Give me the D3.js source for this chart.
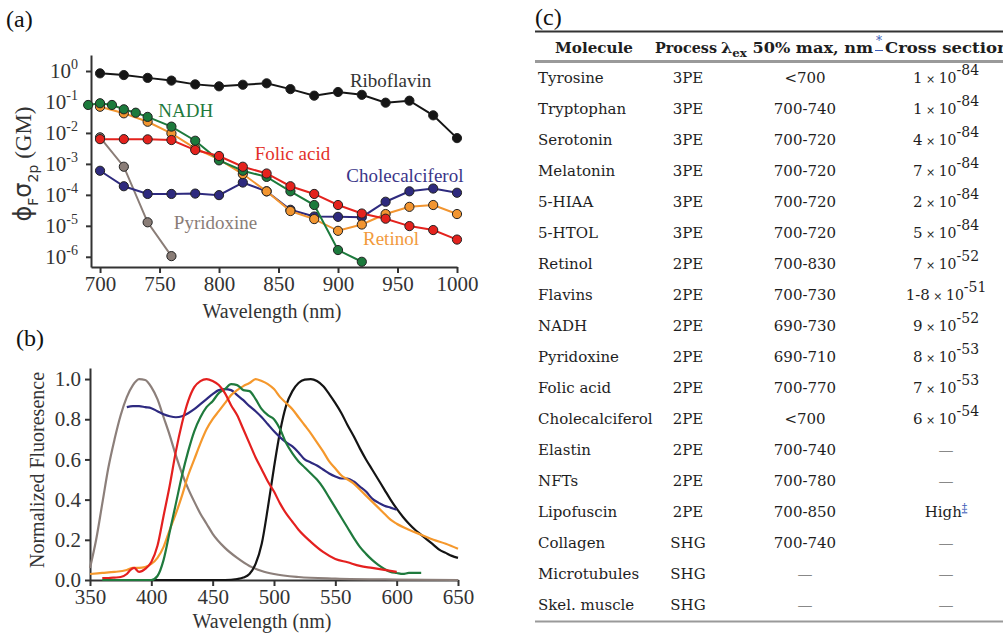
<!DOCTYPE html>
<html>
<head>
<meta charset="utf-8">
<script src="https://cdn.jsdelivr.net/npm/d3@7"></script>
<style>
    body { margin: 0; background: #fff; }
    text { font-family: "Liberation Serif", "Times New Roman", serif; fill: #333; }
    .axis path, .axis line { stroke: #333; stroke-width: 2; }
    .axis text { font-size: 21px; }
    .tbl text { font-family: "DejaVu Serif", serif; fill: #1e1e1e; font-size: 15px; }
    .tbl .hd { font-weight: bold; }
</style>
</head>
<body>
<svg id="fig" width="1003" height="639"></svg>
<script>
// ---------- panel (a): action cross sections ----------
const wlA = [700, 720, 740, 760, 780, 800, 820, 840, 860, 880, 900, 920, 940, 960, 980, 1000];
const riboflavin = [0.84, 0.74, 0.60, 0.49, 0.37, 0.32, 0.36, 0.40, 0.26, 0.16, 0.21, 0.17, 0.095, 0.11, 0.037, 0.0068];
const folicAcid = [0.0063, 0.0063, 0.0062, 0.0059, 0.0028, 0.0018, 8.1e-4, 4.9e-4, 1.9e-4, 1.07e-4, 4.7e-5, 2.5e-5, 1.7e-5, 9.8e-6, 7.3e-6, 3.6e-6];
const retinol = [0.07, 0.043, 0.023, 0.0097, 0.0032, 0.0014, 4.7e-4, 1.3e-4, 3.0e-5, 1.65e-5, 6.9e-6, 1.1e-5, 2.4e-5, 4.1e-5, 4.7e-5, 2.4e-5];
const cholecalciferol = [6e-4, 1.9e-4, 1.07e-4, 1.07e-4, 1.1e-4, 9.8e-5, 2.5e-4, 1.3e-4, 3.3e-5, 2.0e-5, 1.95e-5, 1.9e-5, 6e-5, 1.3e-4, 1.6e-4, 1.17e-4];
const wlNadh = [690, 700, 710, 720, 730, 740, 760, 780, 800, 820, 840, 860, 880, 900, 920];
const nadh = [0.08, 0.091, 0.08, 0.058, 0.045, 0.033, 0.016, 0.0056, 0.0013, 6e-4, 3.8e-4, 1.3e-4, 4.7e-5, 1.65e-6, 6.9e-7];
const wlPyridoxine = [700, 720, 740, 760];
const pyridoxine = [0.0072, 8.1e-4, 1.3e-5, 1.05e-6];
const logTicks = [1, 1e-1, 1e-2, 1e-3, 1e-4, 1e-5, 1e-6];
const logExps = ['0', '-1', '-2', '-3', '-4', '-5', '-6'];
const wlTicksA = [700, 750, 800, 850, 900, 950, 1000];

// ---------- panel (b): emission spectra ----------
const wlPyrEm = [350, 355, 360, 365, 370, 375, 380, 385, 390, 395, 400, 405, 410, 415, 420, 425, 430, 435, 440, 445, 450, 460, 470, 480, 490, 500, 520, 550, 600, 650];
const pyrEm = [0.06, 0.2, 0.38, 0.56, 0.70, 0.82, 0.91, 0.97, 1.0, 0.995, 0.96, 0.90, 0.81, 0.72, 0.62, 0.53, 0.455, 0.39, 0.33, 0.28, 0.23, 0.16, 0.11, 0.07, 0.045, 0.03, 0.015, 0.007, 0.002, 0.0];
const wlFolEm = [360, 365, 370, 375, 380, 383, 386, 390, 395, 400, 405, 410, 415, 420, 425, 430, 435, 440, 445, 450, 455, 460, 465, 470, 475, 480, 485, 490, 495, 500, 505, 510, 515, 520, 530, 540, 550, 560, 570, 580, 590, 600];
const folEm = [0.01, 0.01, 0.012, 0.015, 0.03, 0.05, 0.06, 0.04, 0.055, 0.09, 0.17, 0.32, 0.47, 0.64, 0.78, 0.89, 0.96, 0.99, 1.0, 0.99, 0.97, 0.93, 0.87, 0.82, 0.75, 0.68, 0.61, 0.55, 0.49, 0.44, 0.38, 0.33, 0.29, 0.25, 0.19, 0.14, 0.105, 0.088, 0.07, 0.06, 0.05, 0.04];
const wlNadhEm = [360, 400, 405, 410, 415, 420, 425, 430, 435, 440, 445, 450, 455, 460, 465, 470, 475, 480, 485, 490, 495, 500, 505, 510, 515, 520, 525, 530, 535, 540, 545, 550, 555, 560, 565, 570, 575, 580, 585, 590, 595, 600, 605, 610, 620];
const nadhEm = [0, 0, 0.02, 0.10, 0.24, 0.38, 0.52, 0.64, 0.74, 0.81, 0.86, 0.89, 0.93, 0.95, 0.975, 0.97, 0.945, 0.94, 0.90, 0.85, 0.82, 0.80, 0.75, 0.68, 0.63, 0.59, 0.56, 0.53, 0.50, 0.46, 0.41, 0.36, 0.31, 0.26, 0.21, 0.165, 0.13, 0.10, 0.075, 0.055, 0.04, 0.035, 0.03, 0.035, 0.035];
const wlRetEm = [350, 360, 370, 380, 385, 390, 400, 405, 410, 415, 420, 425, 430, 435, 440, 445, 450, 455, 460, 465, 470, 475, 480, 485, 490, 495, 500, 505, 510, 515, 520, 525, 530, 535, 540, 545, 550, 555, 560, 565, 570, 575, 580, 585, 590, 595, 600, 610, 620, 630, 640, 650];
const retEm = [0.03, 0.035, 0.04, 0.05, 0.06, 0.06, 0.08, 0.11, 0.165, 0.25, 0.33, 0.42, 0.52, 0.60, 0.68, 0.75, 0.80, 0.84, 0.88, 0.92, 0.945, 0.965, 0.98, 1.0, 0.99, 0.975, 0.95, 0.91, 0.88, 0.85, 0.81, 0.77, 0.73, 0.685, 0.64, 0.59, 0.555, 0.52, 0.50, 0.48, 0.45, 0.42, 0.39, 0.36, 0.33, 0.30, 0.28, 0.25, 0.225, 0.2, 0.18, 0.155];
const wlCholEm = [380, 385, 390, 395, 400, 405, 410, 415, 420, 425, 430, 435, 440, 445, 450, 455, 460, 465, 470, 475, 480, 485, 490, 495, 500, 505, 510, 515, 520, 525, 530, 535, 540, 545, 550, 555, 560, 565, 570, 575, 580, 585, 590, 595, 600];
const cholEm = [0.86, 0.865, 0.865, 0.86, 0.855, 0.84, 0.825, 0.815, 0.81, 0.815, 0.83, 0.85, 0.875, 0.90, 0.925, 0.945, 0.95, 0.945, 0.92, 0.895, 0.865, 0.84, 0.81, 0.775, 0.74, 0.71, 0.685, 0.665, 0.635, 0.60, 0.585, 0.57, 0.55, 0.53, 0.515, 0.505, 0.505, 0.49, 0.465, 0.44, 0.405, 0.385, 0.37, 0.36, 0.35];
const wlRiboEm = [400, 460, 470, 475, 480, 485, 490, 495, 500, 505, 510, 515, 520, 525, 530, 535, 540, 545, 550, 555, 560, 565, 570, 575, 580, 585, 590, 595, 600, 605, 610, 615, 620, 625, 630, 635, 640, 645, 650];
const riboEm = [0, 0, 0.005, 0.012, 0.03, 0.08, 0.18, 0.36, 0.56, 0.74, 0.87, 0.94, 0.98, 0.997, 1.0, 0.99, 0.965, 0.925, 0.88, 0.83, 0.77, 0.715, 0.655, 0.6, 0.55, 0.5, 0.45, 0.4, 0.355, 0.315, 0.28, 0.25, 0.225, 0.2, 0.175, 0.15, 0.135, 0.12, 0.11];
const normTicks = [0, 0.2, 0.4, 0.6, 0.8, 1.0];
const wlTicksB = [350, 400, 450, 500, 550, 600, 650];

// ---------- panel (c): table ----------
const molecules = ['Tyrosine', 'Tryptophan', 'Serotonin', 'Melatonin', '5-HIAA', '5-HTOL', 'Retinol', 'Flavins', 'NADH', 'Pyridoxine', 'Folic acid', 'Cholecalciferol', 'Elastin', 'NFTs', 'Lipofuscin', 'Collagen', 'Microtubules', 'Skel. muscle'];
const processes = ['3PE', '3PE', '3PE', '3PE', '3PE', '3PE', '2PE', '2PE', '2PE', '2PE', '2PE', '2PE', '2PE', '2PE', '2PE', 'SHG', 'SHG', 'SHG'];
const exRanges = ['<700', '700-740', '700-720', '700-720', '700-720', '700-720', '700-830', '700-730', '690-730', '690-710', '700-770', '<700', '700-740', '700-780', '700-850', '700-740', '—', '—'];
const crossCoef = ['1', '1', '4', '7', '2', '5', '7', '1-8', '9', '8', '7', '6', '—', '—', 'High', '—', '—', '—'];
const crossExp = ['-84', '-84', '-84', '-84', '-84', '-84', '-52', '-51', '-52', '-53', '-53', '-54', '', '', '', '', '', ''];

const svg = d3.select('#fig');
svg.append('rect').attr('width', 1003).attr('height', 639).attr('fill', '#fff');

// panel letters
svg.append('text').attr('x', 6).attr('y', 27).attr('font-size', 24).style('fill', '#111').text('(a)');
svg.append('text').attr('x', 16).attr('y', 346).attr('font-size', 24).style('fill', '#111').text('(b)');
svg.append('text').attr('x', 535).attr('y', 25).attr('font-size', 24).style('fill', '#111').text('(c)');

// ===== panel (a) =====
const xA = d3.scaleLinear().domain([692.4, 1000]).range([91, 457]);
const yA = d3.scaleLog().domain([Math.pow(10, -6.33), Math.pow(10, 0.517)]).range([267, 55]);

const gA = svg.append('g');

gA.append('g').attr('class', 'axis')
    .attr('transform', 'translate(0,267)')
    .call(d3.axisBottom(xA).tickValues(wlTicksA).tickSize(6).tickSizeOuter(0).tickPadding(3).tickFormat(d3.format('d')));

const yAxisA = gA.append('g').attr('class', 'axis')
    .attr('transform', 'translate(91,0)')
    .call(d3.axisLeft(yA).tickValues(logTicks).tickSize(5).tickSizeOuter(0).tickPadding(8).tickFormat(''));

// 10^n labels with superscript
yAxisA.selectAll('.tick text').each(function(d) {
    const t = d3.select(this);
    t.append('tspan').text('10');
    t.append('tspan').attr('dy', -9).attr('font-size', 14).text(logExps[logTicks.indexOf(d)]);
});

gA.append('text')
    .attr('x', 272).attr('y', 318)
    .attr('text-anchor', 'middle').attr('font-size', 20)
    .text('Wavelength (nm)');

const yTitleA = gA.append('text')
    .attr('transform', 'translate(31,164) rotate(-90)')
    .attr('text-anchor', 'middle').attr('font-size', 23);
yTitleA.append('tspan').style('font-family', 'DejaVu Sans').attr('font-size', 24).text('ϕ');
yTitleA.append('tspan').style('font-family', 'DejaVu Sans').attr('font-size', 14).attr('dy', 7).text('F');
yTitleA.append('tspan').style('font-family', 'DejaVu Sans').attr('font-size', 24).attr('dy', -7).text('σ');
yTitleA.append('tspan').style('font-family', 'DejaVu Sans').attr('font-size', 14).attr('dy', 7).text('2p');
yTitleA.append('tspan').attr('dy', -7).text(' (GM)');

const seriesA = [
    { name: 'Riboflavin', wl: wlA, v: riboflavin, color: '#151515', text: '#333', fill: '#151515', lx: 910, ly: 0.30 },
    { name: 'Pyridoxine', wl: wlPyridoxine, v: pyridoxine, color: '#8a7d77', text: '#8a7d77', fill: '#8a7d77', lx: 762, ly: 7.9e-6 },
    { name: 'Cholecalciferol', wl: wlA, v: cholecalciferol, color: '#2e2a7e', text: '#3a3588', fill: '#2e2a7e', lx: 907, ly: 2.6e-4 },
    { name: 'Retinol', wl: wlA, v: retinol, color: '#f29530', text: '#f29a3c', fill: '#f29530', lx: 921, ly: 2.4e-6 },
    { name: 'NADH', wl: wlNadh, v: nadh, color: '#1c7a3c', text: '#1f7a3d', fill: '#1c7a3c', lx: 749, ly: 0.033 },
    { name: 'Folic acid', wl: wlA, v: folicAcid, color: '#e4221d', text: '#e3302a', fill: '#e4221d', lx: 830, ly: 1.33e-3 }
];

const lineA = d3.line().x(d => xA(d[0])).y(d => yA(d[1]));

seriesA.forEach(s => {
    const pts = s.wl.map((w, i) => [w, s.v[i]]);
    gA.append('path')
        .datum(pts)
        .attr('d', lineA)
        .attr('fill', 'none')
        .attr('stroke', s.color)
        .attr('stroke-width', 2);
    gA.selectAll(null)
        .data(pts)
        .enter()
        .append('circle')
        .attr('cx', d => xA(d[0]))
        .attr('cy', d => yA(d[1]))
        .attr('r', 4.6)
        .attr('fill', s.fill)
        .attr('stroke', '#222')
        .attr('stroke-width', 1);
});

seriesA.forEach(s => {
    gA.append('text')
        .attr('x', xA(s.lx)).attr('y', yA(s.ly))
        .attr('font-size', 19)
        .style('fill', s.text)
        .text(s.name);
});

// ===== panel (b) =====
const xB = d3.scaleLinear().domain([350, 650]).range([90, 458]);
const yB = d3.scaleLinear().domain([0, 1.055]).range([580, 368]);
const gB = svg.append('g');

gB.append('g').attr('class', 'axis')
    .attr('transform', 'translate(0,580)')
    .call(d3.axisBottom(xB).tickValues(wlTicksB).tickSize(6).tickSizeOuter(0).tickPadding(3));

gB.append('g').attr('class', 'axis')
    .attr('transform', 'translate(90,0)')
    .call(d3.axisLeft(yB).tickValues(normTicks).tickSize(5).tickSizeOuter(0).tickPadding(4).tickFormat(d3.format('.1f')));

gB.append('text')
    .attr('x', 262).attr('y', 628)
    .attr('text-anchor', 'middle').attr('font-size', 20)
    .text('Wavelength (nm)');

gB.append('text')
    .attr('transform', 'translate(44,470) rotate(-90)')
    .attr('text-anchor', 'middle').attr('font-size', 20)
    .text('Normalized Fluoresence');

const seriesB = [
    { wl: wlPyrEm, v: pyrEm, color: '#8c7f7a' },
    { wl: wlRiboEm, v: riboEm, color: '#141414' },
    { wl: wlCholEm, v: cholEm, color: '#2e2a80' },
    { wl: wlRetEm, v: retEm, color: '#f5982c' },
    { wl: wlNadhEm, v: nadhEm, color: '#1f7a3d' },
    { wl: wlFolEm, v: folEm, color: '#e4201f' }
];

const lineB = d3.line().x(d => xB(d[0])).y(d => yB(d[1])).curve(d3.curveMonotoneX);

seriesB.forEach(s => {
    gB.append('path')
        .datum(s.wl.map((w, i) => [w, s.v[i]]))
        .attr('d', lineB)
        .attr('fill', 'none')
        .attr('stroke', s.color)
        .attr('stroke-width', 2.2);
});

// ===== panel (c): table =====
const gC = svg.append('g').attr('class', 'tbl');
const rowY = d3.scalePoint().domain(molecules).range([78, 605]);
const colMol = 538, colProc = 688, colEx = 805, colCross = 946;

gC.append('line').attr('x1', 535).attr('x2', 1003).attr('y1', 31.5).attr('y2', 31.5)
    .attr('stroke', '#333').attr('stroke-width', 2);
gC.append('line').attr('x1', 535).attr('x2', 1003).attr('y1', 61.5).attr('y2', 61.5)
    .attr('stroke', '#9a9a9a').attr('stroke-width', 3);
gC.append('line').attr('x1', 535).attr('x2', 1003).attr('y1', 621.5).attr('y2', 621.5)
    .attr('stroke', '#9a9a9a').attr('stroke-width', 2);

// header
gC.append('text').attr('class', 'hd').attr('x', 555).attr('y', 53)
    .attr('textLength', 78).attr('lengthAdjust', 'spacingAndGlyphs').text('Molecule');
gC.append('text').attr('class', 'hd').attr('x', 655).attr('y', 53)
    .attr('textLength', 62).attr('lengthAdjust', 'spacingAndGlyphs').text('Process');
const hdLam = gC.append('text').attr('class', 'hd').attr('x', 721).attr('y', 53)
    .attr('textLength', 152).attr('lengthAdjust', 'spacingAndGlyphs');
hdLam.append('tspan').text('λ');
hdLam.append('tspan').attr('dy', 4).style('font-size', '11px').text('ex');
hdLam.append('tspan').attr('dy', -4).text(' 50% max, nm');
gC.append('text').attr('x', 876).attr('y', 45).style('font-size', '12px').style('fill', '#3a5bb8').text('*');
gC.append('line').attr('x1', 875).attr('x2', 883).attr('y1', 50.5).attr('y2', 50.5)
    .attr('stroke', '#3a5bb8').attr('stroke-width', 1);
gC.append('text').attr('class', 'hd').attr('x', 885).attr('y', 53)
    .attr('textLength', 124).attr('lengthAdjust', 'spacingAndGlyphs').text('Cross section');

// rows
molecules.forEach((m, i) => {
    const y = rowY(m);
    gC.append('text').attr('x', colMol).attr('y', y).attr('dy', '0.35em').text(m);
    gC.append('text').attr('x', colProc).attr('y', y).attr('dy', '0.35em')
        .attr('text-anchor', 'middle').text(processes[i]);
    gC.append('text').attr('x', colEx).attr('y', y).attr('dy', '0.35em')
        .attr('text-anchor', 'middle').style('fill', exRanges[i] === '—' ? '#888' : '#1e1e1e').text(exRanges[i]);

    const c = gC.append('text').attr('x', colCross).attr('y', y).attr('dy', '0.35em')
        .attr('text-anchor', 'middle');
    if (crossExp[i]) {
        c.append('tspan').text(crossCoef[i]);
        c.append('tspan').style('font-size', '11px').text(' × ');
        c.append('tspan').style('font-size', '14px').text('10');
        c.append('tspan').attr('dy', -8).style('font-size', '14px').text(crossExp[i]);
    } else if (crossCoef[i] === 'High') {
        c.append('tspan').text('High');
        c.append('tspan').attr('dy', -6).style('font-size', '11px').style('fill', '#3a5bb8')
            .style('text-decoration', 'underline').text('‡');
    } else {
        c.style('fill', '#888').text(crossCoef[i]);
    }
});
</script>
</body>
</html>
